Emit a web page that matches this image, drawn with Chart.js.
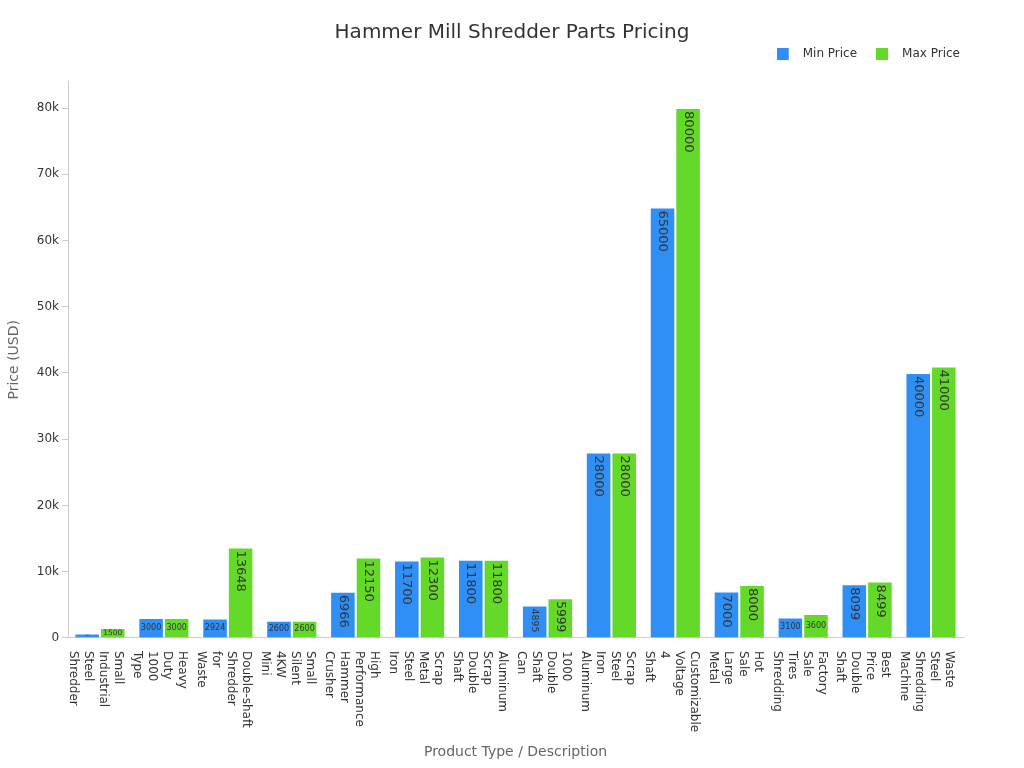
<!DOCTYPE html>
<html>
<head>
<meta charset="utf-8">
<script src="https://cdn.jsdelivr.net/npm/chart.js@4/dist/chart.umd.min.js"></script>
<style>
  body { margin: 0; background: #fff; }
  #wrap { width: 1024px; height: 768px; position: relative; }
</style>
</head>
<body>
<div id="wrap"><canvas id="priceChart"></canvas></div>
<script>
// product names, one word per line (first line ends up rightmost when rotated)
const categories = [
    ['Small', 'Industrial', 'Steel', 'Shredder'],
    ['Heavy', 'Duty', '1000', 'Type'],
    ['Double-shaft', 'Shredder', 'for', 'Waste'],
    ['Small', 'Silent', '4KW', 'Mini'],
    ['High', 'Performance', 'Hammer', 'Crusher'],
    ['Scrap', 'Metal', 'Steel', 'Iron'],
    ['Aluminum', 'Scrap', 'Double', 'Shaft'],
    ['1000', 'Double', 'Shaft', 'Can'],
    ['Scrap', 'Steel', 'Iron', 'Aluminum'],
    ['Customizable', 'Voltage', '4', 'Shaft'],
    ['Hot', 'Sale', 'Large', 'Metal'],
    ['Factory', 'Sale', 'Tires', 'Shredding'],
    ['Best', 'Price', 'Double', 'Shaft'],
    ['Waste', 'Steel', 'Shredding', 'Machine']
];
const minPrice = [680, 3000, 2924, 2600, 6966, 11700, 11800, 4895, 28000, 65000, 7000, 3100, 8099, 40000];
const maxPrice = [1500, 3000, 13648, 2600, 12150, 12300, 11800, 5999, 28000, 80000, 8000, 3600, 8499, 41000];
const yTicks = [0, 10000, 20000, 30000, 40000, 50000, 60000, 70000, 80000];

const FONT = "'DejaVu Sans', sans-serif";
const BLUE = '#2F8FF5';
const GREEN = '#64D92A';

// legend swatch: 12px square on the left of a wider transparent strip,
// so the label text sits further from the square
function swatch(color) {
    const c = document.createElement('canvas');
    c.width = 20;
    c.height = 12;
    const g = c.getContext('2d');
    g.fillStyle = color;
    g.fillRect(0, 0, 12, 12);
    return c;
}

// value printed inside each bar, rotated when the bar is tall enough
const valueLabels = {
    id: 'valueLabels',
    afterDatasetsDraw(chart) {
        const ctx = chart.ctx;
        ctx.save();
        ctx.fillStyle = '#333';
        chart.data.datasets.forEach((ds, di) => {
            chart.getDatasetMeta(di).data.forEach((bar, i) => {
                const txt = String(ds.data[i]);
                const w = bar.width;
                const h = bar.base - bar.y;
                ctx.font = '10px ' + FONT;
                const per = ctx.measureText(txt).width / 10;
                const rotSize = Math.min(13, (h - 8) / per, w - 8);
                const horSize = Math.min(13, (w - 5) / per, h - 2);
                ctx.save();
                if (rotSize >= horSize) {
                    ctx.font = rotSize + 'px ' + FONT;
                    ctx.translate(bar.x, bar.y + 3);
                    ctx.rotate(Math.PI / 2);
                    ctx.textAlign = 'left';
                    ctx.textBaseline = 'middle';
                    ctx.fillText(txt, 0, 0);
                } else if (horSize > 0) {
                    ctx.font = horSize + 'px ' + FONT;
                    ctx.textAlign = 'center';
                    ctx.textBaseline = 'middle';
                    ctx.fillText(txt, bar.x, bar.y + h / 2);
                }
                ctx.restore();
            });
        });
        ctx.restore();
    }
};

// x labels read top-to-bottom, which the built-in rotation can't do
const xLabels = {
    id: 'xLabels',
    afterDraw(chart) {
        const ctx = chart.ctx;
        const xs = chart.scales.x;
        const lh = 15;
        ctx.save();
        ctx.font = '12px ' + FONT;
        ctx.fillStyle = '#333';
        ctx.textAlign = 'left';
        ctx.textBaseline = 'middle';
        categories.forEach((lines, i) => {
            const x = xs.getPixelForTick(i);
            ctx.save();
            ctx.translate(x - 4, xs.top + 13);
            ctx.rotate(Math.PI / 2);
            lines.forEach((line, j) => {
                ctx.fillText(line, 0, (j - (lines.length - 1) / 2) * lh);
            });
            ctx.restore();
        });
        ctx.restore();
    }
};

// keep the title centred on the whole canvas, not the padded box
const centreTitle = {
    id: 'centreTitle',
    afterLayout(chart) {
        if (chart.titleBlock) {
            chart.titleBlock.left = 0;
            chart.titleBlock.right = chart.width;
        }
    }
};

new Chart(document.getElementById('priceChart'), {
    type: 'bar',
    data: {
        labels: categories,
        datasets: [
            {
                label: 'Min Price',
                data: minPrice,
                xAxisID: 'x',
                yAxisID: 'y',
                backgroundColor: BLUE,
                borderColor: 'rgba(255,255,255,0.5)',
                borderWidth: 1,
                pointStyle: swatch(BLUE),
                categoryPercentage: 0.8,
                barPercentage: 1.0
            },
            {
                label: 'Max Price',
                data: maxPrice,
                xAxisID: 'x',
                yAxisID: 'y',
                backgroundColor: GREEN,
                borderColor: 'rgba(255,255,255,0.5)',
                borderWidth: 1,
                pointStyle: swatch(GREEN),
                categoryPercentage: 0.8,
                barPercentage: 1.0
            }
        ]
    },
    options: {
        responsive: true,
        maintainAspectRatio: false,
        animation: false,
        layout: { padding: { left: 4, right: 45, top: 12, bottom: 3 } },
        font: { family: FONT },
        scales: {
            x: {
                grid: { display: false, drawTicks: true, tickLength: 6 },
                border: { display: true, color: '#ccc' },
                ticks: {
                    color: 'rgba(0,0,0,0)',
                    font: { family: FONT, size: 12 },
                    minRotation: 90,
                    maxRotation: 90,
                    autoSkip: false
                },
                title: {
                    display: true,
                    text: 'Product Type / Description',
                    color: '#666',
                    font: { family: FONT, size: 14 },
                    padding: { top: 13, bottom: 4 }
                }
            },
            // empty strip between legend and plot
            xTop: {
                axis: 'x',
                type: 'category',
                position: 'top',
                grid: { display: false },
                border: { display: false },
                ticks: { display: false },
                afterFit(scale) { scale.height = 12; }
            },
            y: {
                min: 0,
                max: 84000,
                afterBuildTicks(scale) {
                    scale.ticks = yTicks.map(v => ({ value: v }));
                },
                grid: { drawOnChartArea: false, drawTicks: true, tickLength: 6, color: '#ccc' },
                border: { display: true, color: '#ccc' },
                ticks: {
                    color: '#333',
                    padding: 3,
                    font: { family: FONT, size: 12 },
                    callback: v => v === 0 ? '0' : (v / 1000) + 'k'
                },
                title: {
                    display: true,
                    text: 'Price (USD)',
                    color: '#666',
                    font: { family: FONT, size: 14 },
                    padding: { top: 2, bottom: 11 }
                }
            },
            // empty margin on the right of the plot
            yRight: {
                axis: 'y',
                type: 'linear',
                position: 'right',
                grid: { display: false },
                border: { display: false },
                ticks: { display: false },
                afterFit(scale) { scale.width = 16; }
            }
        },
        plugins: {
            title: {
                display: true,
                text: 'Hammer Mill Shredder Parts Pricing',
                color: '#333',
                font: { family: FONT, size: 20, weight: 'normal' },
                padding: { top: 9, bottom: -16.4 }
            },
            legend: {
                align: 'end',
                labels: {
                    color: '#333',
                    font: { family: FONT, size: 12 },
                    usePointStyle: true,
                    pointStyleWidth: 20,
                    boxHeight: 12,
                    padding: 19
                }
            },
            tooltip: { enabled: false }
        }
    },
    plugins: [valueLabels, xLabels, centreTitle]
});
</script>
</body>
</html>
